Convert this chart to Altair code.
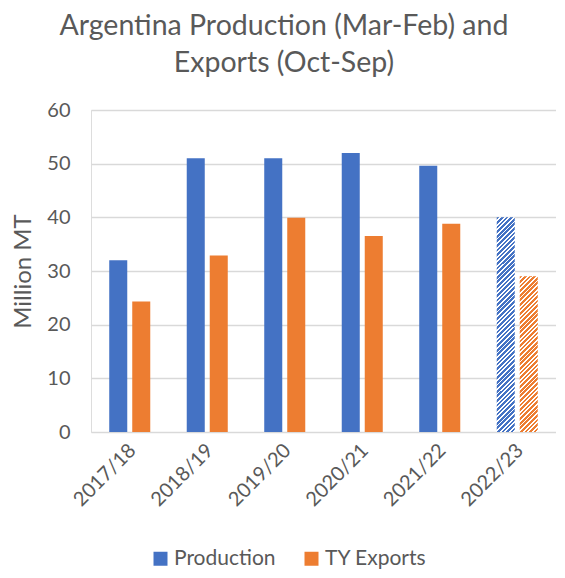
import altair as alt
import pandas as pd

seasons = ["2017/18", "2018/19", "2019/20", "2020/21", "2021/22", "2022/23"]
production = [32.0, 51.0, 51.0, 52.0, 49.6, 40.0]
exports = [24.3, 32.9, 39.9, 36.5, 38.8, 29.0]
forecast = [False, False, False, False, False, True]
series_names = ["Production", "TY Exports"]
series_colors = ["#4472C4", "#ED7D31"]

rows = []
for s, p, e, f in zip(seasons, production, exports, forecast):
    rows.append({"season": s, "series": "Production", "value": p, "forecast": f})
    rows.append({"season": s, "series": "TY Exports", "value": e, "forecast": f})
df = pd.DataFrame(rows)

W, H = 465, 322
YMAX = 60
BAR_W = 18
TXT = "#595959"


def hatch(color, value, period=4.6, frac=0.6):
    h = value / YMAX * H
    w = BAR_W
    r = h / w
    x2 = (1 + r) / (1 + r * r)
    y2 = r * x2
    n = int(round((w + h) / period))
    stops = []
    for i in range(n):
        a = i / n
        b = (i + frac) / n
        c = (i + 1) / n
        stops += [
            alt.GradientStop(color=color, offset=a),
            alt.GradientStop(color=color, offset=b),
            alt.GradientStop(color="#ffffff", offset=b),
            alt.GradientStop(color="#ffffff", offset=c),
        ]
    return alt.Gradient(gradient="linear", stops=stops, x1=0, y1=0, x2=x2, y2=y2)


x_enc = alt.X(
    "season:N",
    sort=seasons,
    title=None,
    scale=alt.Scale(paddingInner=0, paddingOuter=0),
    axis=alt.Axis(
        labelAngle=-45,
        labelFontSize=20,
        labelColor=TXT,
        labelFont="Lato",
        ticks=False,
        domain=False,
        labelPadding=8,
        labelOffset=-4,
    ),
)
xo_enc = alt.XOffset(
    "series:N",
    scale=alt.Scale(domain=series_names, paddingInner=0.217, paddingOuter=0.793),
)
y_enc = alt.Y(
    "value:Q",
    title="Million MT",
    scale=alt.Scale(domain=[0, YMAX], nice=False),
    axis=alt.Axis(
        values=[0, 10, 20, 30, 40, 50, 60],
        ticks=False,
        domain=False,
        grid=True,
        gridColor="#d9d9d9",
        gridWidth=1.5,
        labelFontSize=20,
        labelColor=TXT,
        labelFont="Lato",
        labelPadding=21,
        titleFontSize=24,
        titleFont="Lato",
        titleFontWeight="normal",
        titleColor=TXT,
        titlePadding=11,
    ),
)

solid = (
    alt.Chart(df)
    .transform_filter("!datum.forecast")
    .mark_bar()
    .encode(
        x=x_enc,
        xOffset=xo_enc,
        y=y_enc,
        color=alt.Color(
            "series:N",
            scale=alt.Scale(domain=series_names, range=series_colors),
            legend=alt.Legend(
                title=None,
                orient="none",
                direction="horizontal",
                legendX=59,
                legendY=438,
                padding=0,
                symbolType="square",
                symbolSize=196,
                symbolStrokeWidth=0,
                labelFontSize=21,
                labelFont="Lato",
                labelColor=TXT,
                columnPadding=25,
                labelOffset=3,
            ),
        ),
    )
)

layers = [solid]
for name, col in zip(series_names, series_colors):
    val = df[(df.forecast) & (df.series == name)]["value"].iloc[0]
    layers.append(
        alt.Chart(df)
        .transform_filter(f"datum.forecast && datum.series == '{name}'")
        .mark_bar(fill=hatch(col, val))
        .encode(x=x_enc, xOffset=xo_enc, y=y_enc)
    )

chart = (
    alt.layer(*layers)
    .properties(
        width=W,
        height=H,
        padding={"left": 3, "top": 3, "right": 0, "bottom": 0},
        title=alt.TitleParams(
            text=["Argentina Production (Mar-Feb) and", "Exports (Oct-Sep)"],
            fontSize=28.5,
            font="Lato",
            fontWeight="normal",
            color=TXT,
            anchor="middle",
            frame="bounds",
            lineHeight=37,
            offset=23,
        ),
    )
    .configure_view(stroke=None)
    .configure(background="#ffffff")
)

chart.save("out.html", embed_options={"renderer": "svg", "actions": False})
